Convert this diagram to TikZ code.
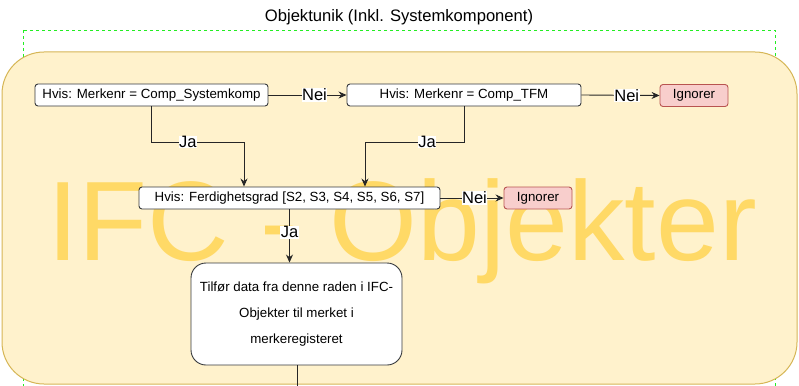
\documentclass[tikz,border=0pt]{standalone}
\usepackage{fontspec}
\setmainfont{Liberation Sans}
\usetikzlibrary{arrows.meta,calc}
\definecolor{yfill}{HTML}{FFF2CC}
\definecolor{ydraw}{HTML}{D6B656}
\definecolor{wmark}{HTML}{FFD966}
\definecolor{rfill}{HTML}{F8CECC}
\definecolor{rdraw}{HTML}{B85450}
\definecolor{gline}{HTML}{22EE22}
\definecolor{bline}{HTML}{36393D}
\tikzset{
  boxtxt/.style={font=\fontsize{13.3}{16}\selectfont},
  condbox/.style={boxtxt, draw=bline, fill=white, line width=0.9pt, rounded corners=3pt, inner sep=0pt},
  ignbox/.style={boxtxt, draw=rdraw, fill=rfill, line width=0.9pt, rounded corners=3pt, inner sep=0pt, minimum width=68pt, minimum height=22pt},
  conn/.style={draw=black!85, line width=0.9pt},
  arr/.style={conn, -{Stealth[length=8pt,width=7pt]}},
  elabel/.style={fill=white, inner sep=0.5pt, font=\fontsize{16.5}{18}\selectfont},
}
\begin{document}
\begin{tikzpicture}[x=1pt,y=-1pt]
\useasboundingbox (0,0) rectangle (799,385);
\clip (0,0) rectangle (799,385);
% outer dashed group
\node[font=\fontsize{16.6}{19}\selectfont] (title) at (399,17) {Objektunik (Inkl. Systemkomponent)};
\draw[gline, dashed, dash pattern=on 3pt off 3pt, line width=0.9pt] (23,30) rectangle (775,420);
% yellow container
\draw[fill=yfill, draw=ydraw, line width=1pt, rounded corners=42pt] (2,52) rectangle (797,384);
\node[text=wmark, font=\fontsize{113}{120}\selectfont, anchor=base, inner sep=0pt] (wm) at (402,260) {IFC - Objekter};
% nodes
\node[condbox, minimum width=233pt, minimum height=22pt] (n1) at (151.5,95) {Hvis: Merkenr = Comp\_Systemkomp};
\node[condbox, minimum width=234pt, minimum height=22pt] (n2) at (464,95) {Hvis: Merkenr = Comp\_TFM};
\node[ignbox] (i1) at (694,95.5) {Ignorer};
\node[condbox, minimum width=301pt, minimum height=22pt] (n3) at (289.5,198) {Hvis: Ferdighetsgrad [S2, S3, S4, S5, S6, S7]};
\node[ignbox] (i2) at (538,198) {Ignorer};
\node[condbox, rounded corners=15pt, minimum width=211pt, minimum height=102pt, align=center, font=\fontsize{13.3}{25.7}\selectfont] (n4) at (296.5,314) {Tilfør data fra denne raden i IFC-\\Objekter til merket i\\merkeregisteret};
% bend coordinates
\coordinate (b1) at (244,142);
\coordinate (b2) at (365,142);
\coordinate (out) at (297,400);
% connectors
\draw[arr] (n1.east) -- node[elabel, pos=0.59] {Nei} (n2.west);
\draw[arr] (n2.east) -- node[elabel, pos=0.58] {Nei} (i1.west);
\draw[arr] (n3.east) -- node[elabel, pos=0.54] {Nei} (i2.west);
\draw[arr] (n1.south) |- node[elabel, pos=0.696] {Ja} (b1) -- (b1 |- n3.north);
\draw[arr] (n2.south) |- node[elabel, pos=0.687] {Ja} (b2) -- (b2 |- n3.north);
\draw[arr] (n3.south) -- node[elabel, pos=0.43] {Ja} (n3.south |- n4.north);
\draw[conn] (n4.south -| out) -- (out);
\end{tikzpicture}
\end{document}
